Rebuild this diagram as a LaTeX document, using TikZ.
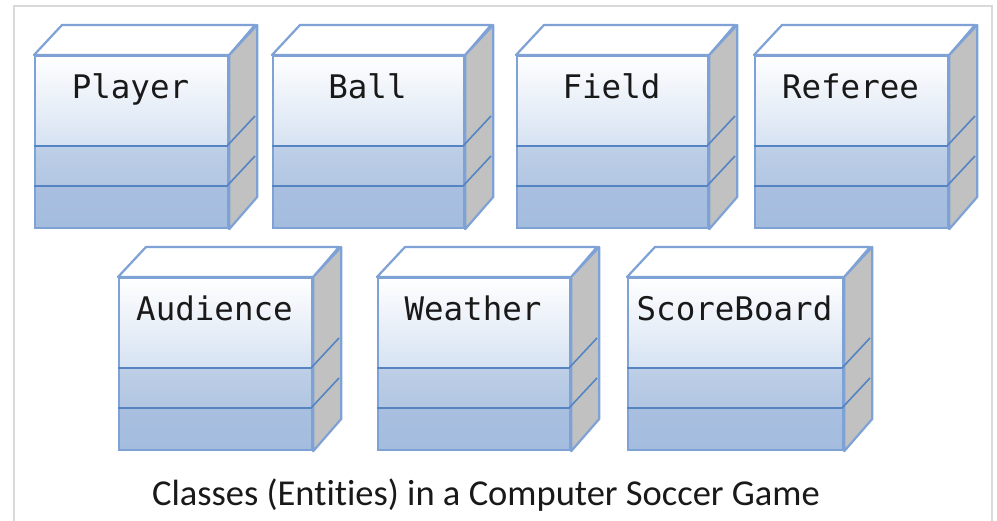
\documentclass[tikz,border=0pt]{standalone}
\usepackage{fontspec}
\setmainfont{Carlito}[Ligatures=NoCommon]
\newfontfamily\codefont{DejaVu Sans Mono}
\definecolor{boxedge}{RGB}{126,162,214}
\definecolor{boxsep}{RGB}{84,132,194}
\definecolor{boxside}{RGB}{193,193,193}
\definecolor{shadeA}{RGB}{214,226,242}
\definecolor{shadeB}{RGB}{190,207,231}
\definecolor{shadeC}{RGB}{178,198,226}
\definecolor{shadeD}{RGB}{168,191,224}
\definecolor{shadeE}{RGB}{164,188,222}
\definecolor{framegray}{RGB}{217,217,217}
\definecolor{inktext}{RGB}{25,25,25}

\tikzset{
  front face/.style={draw=boxedge, line width=2.2pt, rectangle, inner sep=0pt, anchor=north west},
  top face/.style={draw=boxedge, line width=2.2pt, fill=white, line join=round},
  side face/.style={draw=boxedge, line width=2.2pt, fill=boxside, line join=round},
  compartment/.style={draw=boxsep, line width=1.6pt},
  class name/.style={font=\codefont\fontsize{32.5}{36}\selectfont, text=inktext, anchor=base, inner sep=0pt},
  caption text/.style={font=\fontsize{36.5}{40}\selectfont, text=inktext, anchor=base, inner sep=0pt},
  frame line/.style={draw=framegray, line width=2pt}
}

% \umlclass{name}{left}{top}{width}{label}: a 3D class box with three compartments
\newcommand\umlclass[5]{%
  \begin{scope}[shift={(#2,#3)}]
    \pgfmathsetmacro\bw{#4}
    % compartment fills
    \shade[top color=white, bottom color=shadeA] (0,0) rectangle (\bw,91);
    \shade[top color=shadeB, bottom color=shadeC] (0,91) rectangle (\bw,131);
    \shade[top color=shadeD, bottom color=shadeE] (0,131) rectangle (\bw,172);
    % front face
    \node[front face, minimum width=\bw pt, minimum height=172pt] (#1) at (0,0) {};
    % top and side faces
    \path[top face] (#1.north west) -- ++(28,-30) -- ++(\bw,0) -- (#1.north east) -- cycle;
    \path[side face] (#1.north east) -- ++(28,-30) -- ++(0,172) -- (#1.south east) -- cycle;
    % compartment separators, running on around the side face
    \draw[compartment] (0,91) -- (\bw,91) -- ++(28,-30);
    \draw[compartment] (0,131) -- (\bw,131) -- ++(28,-30);
    % class name
    \node[class name] (#1-name) at ({\bw/2},44) {#5};
  \end{scope}%
}

\begin{document}
\begin{tikzpicture}[x=1pt, y=-1pt]
  \useasboundingbox (0,0) rectangle (997,521);
  \path[fill=white] (0,0) rectangle (997,521);
  % surrounding frame
  \draw[frame line] (14,522) -- (14,6) -- (992,6) -- (992,522);

  % first row
  \umlclass{player}{34}{55}{193}{Player}
  \umlclass{ball}{272}{55}{191}{Ball}
  \umlclass{field}{516}{55}{191}{Field}
  \umlclass{referee}{754}{55}{193}{Referee}

  % second row
  \umlclass{audience}{118}{277}{193}{Audience}
  \umlclass{weather}{377}{277}{192}{Weather}
  \umlclass{scoreboard}{627}{277}{215}{ScoreBoard}

  \node[caption text] (caption) at (486,505) {Classes (Entities) in a Computer Soccer Game};
\end{tikzpicture}
\end{document}
